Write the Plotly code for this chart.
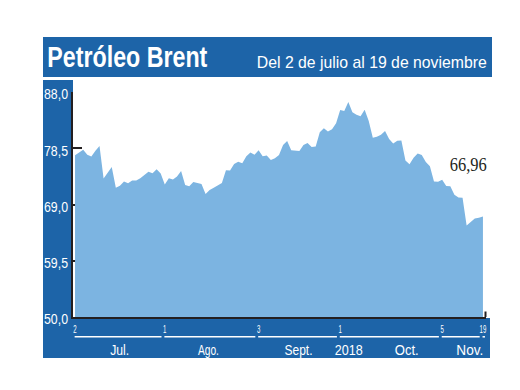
import plotly.graph_objects as go

dates = [
    # July
    "2018-07-02","2018-07-03","2018-07-04","2018-07-05","2018-07-06",
    "2018-07-09","2018-07-10","2018-07-11","2018-07-12","2018-07-13",
    "2018-07-16","2018-07-17","2018-07-18","2018-07-19","2018-07-20",
    "2018-07-23","2018-07-24","2018-07-25","2018-07-26","2018-07-27",
    "2018-07-30","2018-07-31",
    # August
    "2018-08-01","2018-08-02","2018-08-03",
    "2018-08-06","2018-08-07","2018-08-08","2018-08-09","2018-08-10",
    "2018-08-13","2018-08-14","2018-08-15","2018-08-16","2018-08-17",
    "2018-08-20","2018-08-21","2018-08-22","2018-08-23","2018-08-24",
    "2018-08-27","2018-08-28","2018-08-29","2018-08-30","2018-08-31",
    # September
    "2018-09-03","2018-09-04","2018-09-05","2018-09-06","2018-09-07",
    "2018-09-10","2018-09-11","2018-09-12","2018-09-13","2018-09-14",
    "2018-09-17","2018-09-18","2018-09-19","2018-09-20","2018-09-21",
    "2018-09-24","2018-09-25","2018-09-26","2018-09-27","2018-09-28",
    # October
    "2018-10-01","2018-10-02","2018-10-03","2018-10-04","2018-10-05",
    "2018-10-08","2018-10-09","2018-10-10","2018-10-11","2018-10-12",
    "2018-10-15","2018-10-16","2018-10-17","2018-10-18","2018-10-19",
    "2018-10-22","2018-10-23","2018-10-24","2018-10-25","2018-10-26",
    "2018-10-29","2018-10-30","2018-10-31",
    # November
    "2018-11-01","2018-11-02",
    "2018-11-05","2018-11-06","2018-11-07","2018-11-08","2018-11-09",
    "2018-11-12","2018-11-13","2018-11-14","2018-11-15","2018-11-16",
    "2018-11-19",
]

prices = [
    77.30, 77.76, 78.24, 77.39, 77.11,
    78.07, 78.86, 73.40, 74.45, 75.33,
    71.84, 72.16, 72.90, 72.58, 73.07,
    73.06, 73.44, 73.93, 74.54, 74.29,
    74.97, 74.25,
    72.39, 73.45, 73.21,
    73.75, 74.65, 72.28, 72.07, 72.81,
    72.61, 72.46, 70.76, 71.43, 71.83,
    72.21, 72.63, 74.78, 74.73, 75.82,
    76.21, 75.95, 77.14, 77.77, 77.42,
    78.15, 77.17, 77.27, 76.50, 76.83,
    77.37, 79.06, 79.74, 78.18, 78.09,
    78.05, 79.03, 79.40, 78.70, 78.80,
    81.20, 81.87, 81.34, 81.72, 82.72,
    84.98, 84.80, 86.29, 84.58, 84.16,
    83.91, 85.00, 83.09, 80.26, 80.43,
    80.78, 81.41, 80.05, 79.29, 79.78,
    79.83, 76.44, 75.80, 76.89, 77.62,
    77.34, 76.17, 75.47,
    72.89, 72.83,
    73.17, 72.13, 72.07, 70.65, 70.18,
    70.12, 65.47, 66.12, 66.62, 66.76,
    66.96,
]

tick_dates = ["2018-07-02", "2018-08-01", "2018-09-03", "2018-10-01", "2018-11-05", "2018-11-19"]
tick_labels = ["2", "1", "3", "1", "5", "19"]
month_labels = ["Jul.", "Ago.", "Sept.", "2018", "Oct.", "Nov."]
month_pos = [11, 32.6, 54.7, 67, 81.4, 96.8]
y_ticks = [50.0, 59.5, 69.0, 78.5, 88.0]
last_label = "66,96"

title = "Petróleo Brent"
subtitle = "Del 2 de julio al 19 de noviembre"

DARK = "#1d64a8"
FILL = "#7cb4e1"
AXIS = "#231f20"
SANS = "Liberation Sans, Arial, sans-serif"
SERIF = "Liberation Serif, Times New Roman, serif"

W, H = 520, 390
L, R, T, B = 73, 486, 92, 317


def px(x):
    return (x - L) / (R - L)


def py(y):
    return (B - y) / (B - T)


fig = go.Figure()
fig.add_trace(go.Scatter(
    x=dates, y=prices, mode="lines", line=dict(width=0, color=FILL),
    fill="tozeroy", fillcolor=FILL, hoverinfo="skip", showlegend=False,
))

shapes = []
for (x0, y0, x1, y1) in [(43, 37, 492, 77), (43, 80, 73, 358), (43, 318, 490, 358)]:
    shapes.append(dict(type="rect", xref="paper", yref="paper",
                       x0=px(x0), x1=px(x1), y0=py(y1), y1=py(y0),
                       fillcolor=DARK, line=dict(width=0), layer="below"))
tick_idx = [dates.index(d) for d in tick_dates]
seg_ends = tick_idx[1:] + [101.3]
for a, b in zip(tick_idx, seg_ends):
    shapes.append(dict(type="line", xref="x", yref="paper",
                       x0=a - 0.1, x1=b - 0.8, y0=py(336.8), y1=py(336.8),
                       line=dict(color="white", width=1.5), layer="above"))
shapes.append(dict(type="line", xref="paper", yref="paper",
                   x0=px(485.5), x1=px(485.5), y0=py(317), y1=py(311.5),
                   line=dict(color=AXIS, width=2), layer="above"))
fig.update_layout(shapes=shapes)

annotations = [
    dict(text=title, xref="paper", yref="paper", x=px(127), y=py(56),
         xanchor="center", yanchor="middle", showarrow=False,
         font=dict(family=SANS, size=30, weight="bold", color="white")),
    dict(text=subtitle, xref="paper", yref="paper", x=px(372), y=py(62),
         xanchor="center", yanchor="middle", showarrow=False,
         font=dict(family=SANS, size=17, color="white")),
    dict(text=last_label, xref="paper", yref="paper", x=px(468), y=py(165),
         xanchor="center", yanchor="middle", showarrow=False,
         font=dict(family=SERIF, size=18, color=AXIS)),
]
for lab, pos in zip(month_labels, month_pos):
    annotations.append(dict(text=lab, xref="x", yref="paper", x=pos, y=py(349),
                            xanchor="center", yanchor="middle", showarrow=False,
                            font=dict(family=SANS, size=15, color="white")))
fig.update_layout(annotations=annotations)

fig.update_xaxes(
    type="category", range=[-0.5, 100.75],
    tickvals=tick_dates, ticktext=tick_labels, ticks="",
    tickfont=dict(family=SANS, size=11, color="white"), ticklabelstandoff=1,
    showline=True, linecolor=AXIS, linewidth=2, showgrid=False, zeroline=False,
    layer="above traces", fixedrange=True,
)
fig.update_yaxes(
    range=[50, 88], tickvals=y_ticks, tickformat=".1f",
    ticks="inside", ticklen=9, tickwidth=2, tickcolor=AXIS,
    tickfont=dict(family=SANS, size=15, color="white"), ticklabelshift=2,
    showline=True, linecolor=AXIS, linewidth=2, showgrid=False, zeroline=False,
    layer="below traces", fixedrange=True,
)
fig.update_layout(
    width=W, height=H, autosize=False,
    margin=dict(l=L, r=W - R, t=T, b=H - B, pad=0),
    paper_bgcolor="white", plot_bgcolor="rgba(0,0,0,0)",
    separators=", ", showlegend=False,
)

# condensed look of the original typeface: narrow the glyphs of the texts
post = """
document.body.style.margin = '0';
document.body.style.padding = '0';
var gd = document.getElementById('{plot_id}');
var widths = {'Petróleo Brent': 160, 'Del 2 de julio al 19 de noviembre': 230, '66,96': 37,
              'Jul.': 19, 'Ago.': 21, 'Sept.': 28, '2018': 28, 'Oct.': 24, 'Nov.': 27};
function fit(t, w) { t.setAttribute('lengthAdjust', 'spacingAndGlyphs'); t.setAttribute('textLength', w); }
gd.querySelectorAll('text.annotation-text').forEach(function(t) {
  var w = widths[t.textContent];
  if (w) fit(t, w);
});
gd.querySelectorAll('.ytick text').forEach(function(t) { fit(t, 24); });
gd.querySelectorAll('.xtick text').forEach(function(t) { fit(t, t.getComputedTextLength() * 0.55); });
"""

fig.write_html("out.html", config={"displayModeBar": False}, post_script=post)
